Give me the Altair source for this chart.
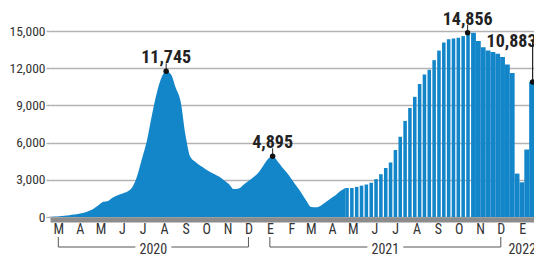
import altair as alt
import pandas as pd

# Weekly values (starting 2020-03-01, one per week)
valores = [20, 40, 70, 100, 150, 200, 270, 350, 480, 670,
           950, 1220, 1300, 1570, 1760, 1900, 2050, 2400, 3300, 4700,
           6100, 8100, 9900, 11200, 11745, 11500, 10400, 9300, 6600, 4850,
           4450, 4150, 3900, 3650, 3450, 3250, 2950, 2650, 2250, 2300,
           2600, 2900, 3200, 3550, 4100, 4650, 4895, 4500, 4000, 3550,
           3000, 2450, 1900, 1300, 800, 780, 930, 1200, 1500, 1750,
           2090, 2340, 2340, 2430, 2530, 2620, 2760, 3050, 3450, 3950,
           4400, 5400, 6470, 7750, 8790, 9690, 10720, 11490, 11880, 12650,
           13420, 14070, 14330, 14400, 14450, 14590, 14856, 14850, 14200, 13690,
           13420, 13300, 13160, 12900, 12300, 11620, 3500, 2800, 5440, 10883]
inicio = "2020-03-01"
fin_area = "2021-05-02"      # smooth daily-looking part ends
fin_huecos = "2021-10-30"    # weekly bars with gaps end

# Annotations
ann_fechas = ["2020-08-16", "2021-01-17", "2021-10-26", "2022-01-28"]
ann_valores = [11745, 4895, 14856, 10883]

# Month labels (Spanish initials) and years
meses = ["E", "F", "M", "A", "M", "J", "J", "A", "S", "O", "N", "D"]
mes_ticks = pd.date_range("2020-03-01", "2022-01-01", freq="MS") + pd.Timedelta(days=12)
anios = ["2020", "2021", "2022"]
y_ticks = [0, 3000, 6000, 9000, 12000, 15000]

AZUL = "#1385c9"
FONT = "Liberation Sans Narrow, Roboto Condensed, Roboto, sans-serif"
GRID = "#b3b3b3"

fechas = pd.date_range(inicio, periods=len(valores), freq="7D")
df = pd.DataFrame({"fecha": fechas, "fin": fechas + pd.Timedelta(days=7), "valor": valores})
df_area = df[df.fecha <= fin_area]
df_gap = df[(df.fecha >= fin_area) & (df.fecha < fin_huecos)]
df_solid = df[df.fecha >= fin_huecos]

ann = pd.DataFrame({"fecha": pd.to_datetime(ann_fechas), "valor": ann_valores})
ann_main = ann.iloc[:3]
ann_last = ann.iloc[3:]

# year brackets
rows = []
for a in anios:
    t = [d for d in mes_ticks if str(d.year) == a]
    ini, fin = t[0], t[-1]
    mid = ini + (fin - ini) / 2
    rows.append({"anio": a, "ini": ini, "fin": fin, "mid": mid,
                 "izq": mid - pd.Timedelta(days=26), "der": mid + pd.Timedelta(days=26)})
yr = pd.DataFrame(rows)
yr_lines = yr[yr.ini < yr.fin]

xscale = alt.Scale(domain=[alt.DateTime(year=2020, month=3, date=1),
                           alt.DateTime(year=2022, month=1, date=30)])
yscale = alt.Scale(domain=[0, 15000], nice=False)

label_expr = "[" + ",".join("'%s'" % m for m in meses) + "][month(datum.value)]"
xaxis = alt.Axis(values=[alt.DateTime(year=d.year, month=d.month, date=d.day) for d in mes_ticks],
                 labelExpr=label_expr, ticks=False, tickSize=0, grid=False, labelOverlap=False,
                 domainColor="#8c8c8c", domainWidth=5, offset=2.5, labelPadding=3,
                 labelFont=FONT, labelFontSize=14, labelColor="#333", title=None)
yaxis = alt.Axis(values=y_ticks, format=",.0f", grid=True,
                 gridColor=GRID, gridWidth=1.5, tickColor=GRID, tickSize=4, tickWidth=1.5,
                 domain=False, labelPadding=1, labelFont=FONT, labelFontSize=13.5,
                 labelColor="#333", title=None, labelOverlap=False)


def X(f="fecha"):
    return alt.X(f + ":T", scale=xscale, axis=xaxis)


Y = alt.Y("valor:Q", scale=yscale, axis=yaxis)

area = alt.Chart(df_area).mark_area(color=AZUL, interpolate="monotone").encode(x=X(), y=Y)
bars_gap = alt.Chart(df_gap).mark_bar(color=AZUL, x2Offset=-1.3, clip=True).encode(
    x=X(), x2="fin:T", y=Y, y2=alt.datum(0))
bars_solid = alt.Chart(df_solid).mark_bar(color=AZUL, clip=True).encode(
    x=X(), x2="fin:T", y=Y, y2=alt.datum(0))

tick_main = alt.Chart(ann_main).mark_rule(color="#222", strokeWidth=1, y2Offset=-8).encode(
    x=X(), y=Y, y2="valor:Q")
tick_last = alt.Chart(ann_last).mark_rule(color="#222", strokeWidth=1.2, y2Offset=-42).encode(
    x=X(), y=Y, y2="valor:Q")
dots = alt.Chart(ann).mark_circle(color="#111", size=30, opacity=1).encode(x=X(), y=Y)
txt_main = alt.Chart(ann_main).mark_text(font=FONT, fontSize=18, fontWeight="bold",
                                         color="#222", dy=-8, baseline="alphabetic").encode(
    x=X(), y=Y, text=alt.Text("valor:Q", format=",.0f"))
txt_last = alt.Chart(ann_last).mark_text(font=FONT, fontSize=18, fontWeight="bold",
                                         color="#222", dx=-46, dy=-35, align="left",
                                         baseline="alphabetic").encode(
    x=X(), y=Y, text=alt.Text("valor:Q", format=",.0f"))

br_left = alt.Chart(yr_lines).mark_rule(color="#555", strokeWidth=1).encode(
    x=X("ini"), x2="izq:T", y=alt.value(216))
br_right = alt.Chart(yr_lines).mark_rule(color="#555", strokeWidth=1).encode(
    x=X("der"), x2="fin:T", y=alt.value(216))
br_v1 = alt.Chart(yr_lines).mark_rule(color="#555", strokeWidth=1).encode(
    x=X("ini"), y=alt.value(206), y2=alt.value(216))
br_v2 = alt.Chart(yr_lines).mark_rule(color="#555", strokeWidth=1).encode(
    x=X("fin"), y=alt.value(206), y2=alt.value(216))
yr_txt = alt.Chart(yr).mark_text(font=FONT, fontSize=14, color="#333", baseline="middle").encode(
    x=X("mid"), y=alt.value(219), text="anio:N")

chart = alt.layer(area, bars_gap, bars_solid, tick_main, tick_last, dots, txt_main, txt_last,
                  br_left, br_right, br_v1, br_v2, yr_txt).properties(
    width=484, height=186,
    autosize=alt.AutoSizeParams(type="none"),
    padding={"left": 42, "top": 23, "right": 0, "bottom": 40},
    background="white",
).configure_view(stroke=None)

chart.save("out.html", embed_options={"renderer": "svg", "actions": False})
